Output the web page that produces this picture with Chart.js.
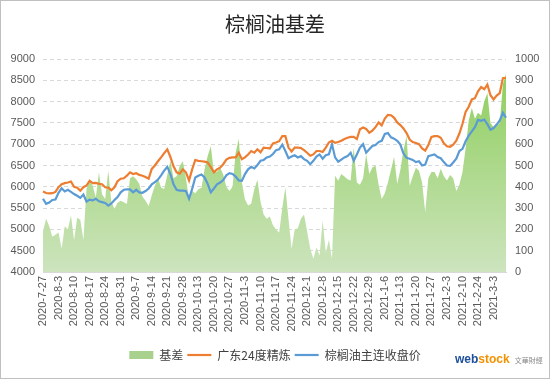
<!DOCTYPE html>
<html>
<head>
<meta charset="utf-8">
<script src="https://cdn.jsdelivr.net/npm/chart.js@4.4.1/dist/chart.umd.min.js"></script>
<style>
  body { margin: 0; background: #fff; }
  #wrap { position: relative; width: 550px; height: 379px; }
  #logo { position: absolute; left: 455px; top: 349px; font-family: "Liberation Sans", Arial, sans-serif; white-space: nowrap; }
  #logo .w { color: #1d4f9a; font-weight: bold; font-size: 12px; }
  #logo .s { color: #f39200; font-weight: bold; font-size: 12px; }
  #logo .c { color: #8a8a8a; font-size: 7px; margin-left: 5px; font-family: "Noto Sans CJK SC", sans-serif; }
</style>
</head>
<body>
<div id="wrap">
  <canvas id="grafico" width="550" height="379"></canvas>
  <div id="logo"><span class="w">web</span><span class="s">stock</span><span class="c">文華財經</span></div>
</div>
<script>
// =====================
// DATOS
// =====================
const fechas = [
  "2020-7-27","2020-7-28","2020-7-29","2020-7-30","2020-7-31",
  "2020-8-3","2020-8-4","2020-8-5","2020-8-6","2020-8-7",
  "2020-8-10","2020-8-11","2020-8-12","2020-8-13","2020-8-14",
  "2020-8-17","2020-8-18","2020-8-19","2020-8-20","2020-8-21",
  "2020-8-24","2020-8-25","2020-8-26","2020-8-27","2020-8-28",
  "2020-8-31","2020-9-1","2020-9-2","2020-9-3","2020-9-4",
  "2020-9-7","2020-9-8","2020-9-9","2020-9-10","2020-9-11",
  "2020-9-14","2020-9-15","2020-9-16","2020-9-17","2020-9-18",
  "2020-9-21","2020-9-22","2020-9-23","2020-9-24","2020-9-25",
  "2020-9-28","2020-9-29","2020-9-30","2020-10-9","2020-10-12",
  "2020-10-13","2020-10-14","2020-10-15","2020-10-16","2020-10-19",
  "2020-10-20","2020-10-21","2020-10-22","2020-10-23","2020-10-26",
  "2020-10-27","2020-10-28","2020-10-29","2020-10-30","2020-11-2",
  "2020-11-3","2020-11-4","2020-11-5","2020-11-6","2020-11-9",
  "2020-11-10","2020-11-11","2020-11-12","2020-11-13","2020-11-16",
  "2020-11-17","2020-11-18","2020-11-19","2020-11-20","2020-11-23",
  "2020-11-24","2020-11-25","2020-11-26","2020-11-27","2020-11-30",
  "2020-12-1","2020-12-2","2020-12-3","2020-12-4","2020-12-7",
  "2020-12-8","2020-12-9","2020-12-10","2020-12-11","2020-12-14",
  "2020-12-15","2020-12-16","2020-12-17","2020-12-18","2020-12-21",
  "2020-12-22","2020-12-23","2020-12-24","2020-12-25","2020-12-28",
  "2020-12-29","2020-12-30","2020-12-31","2021-1-4","2021-1-5",
  "2021-1-6","2021-1-7","2021-1-8","2021-1-11","2021-1-12",
  "2021-1-13","2021-1-14","2021-1-15","2021-1-18","2021-1-19",
  "2021-1-20","2021-1-21","2021-1-22","2021-1-25","2021-1-26",
  "2021-1-27","2021-1-28","2021-1-29","2021-2-1","2021-2-2",
  "2021-2-3","2021-2-4","2021-2-5","2021-2-8","2021-2-9",
  "2021-2-10","2021-2-18","2021-2-19","2021-2-22","2021-2-23",
  "2021-2-24","2021-2-25","2021-2-26","2021-3-1","2021-3-2",
  "2021-3-3","2021-3-4","2021-3-5","2021-3-8","2021-3-9"
];

// 基差 (eje derecho)
const jicha = [
  190,250,215,165,175,185,110,215,200,265,
  150,255,245,150,390,436,405,350,467,365,
  343,475,330,296,325,335,327,319,440,450,
  436,413,355,335,310,360,405,440,397,390,
  455,522,440,450,498,520,440,343,380,370,
  389,395,483,545,590,470,470,490,458,400,
  380,400,560,626,420,340,312,320,389,433,
  330,270,250,260,220,200,185,300,397,250,
  109,200,205,250,270,190,110,62,115,78,
  241,90,150,62,452,428,460,448,436,430,
  584,420,410,440,553,460,491,500,410,343,
  370,420,480,540,413,480,570,640,405,450,
  490,475,420,280,440,470,470,440,485,450,
  430,455,440,380,410,470,580,710,770,720,
  748,735,800,840,700,680,685,700,880,930
];

// 广东24度精炼 (eje izquierdo)
const guangdong = [
  5890,5855,5845,5850,5880,5990,6060,6085,6100,6125,
  6000,5980,5910,5990,6030,6140,6085,6090,6070,6060,
  5990,5980,5920,5990,6130,6190,6200,6260,6340,6300,
  6320,6280,6260,6230,6190,6420,6500,6600,6690,6790,
  6880,6700,6480,6340,6310,6410,6340,6150,6410,6630,
  6610,6600,6590,6570,6460,6340,6410,6450,6530,6640,
  6680,6690,6690,6800,6650,6690,6760,6840,6800,6880,
  6810,6920,6910,6900,7020,7040,7070,7190,7190,6920,
  6830,6920,6920,6910,6860,6800,6730,6760,6840,6840,
  6820,6920,7040,7080,7030,7050,7080,7120,7150,7170,
  7170,7120,7350,7390,7360,7270,7320,7400,7510,7440,
  7600,7690,7680,7620,7510,7450,7370,7260,7110,7050,
  7030,7000,6900,6850,6980,7170,7190,7190,7150,7020,
  6950,6940,6990,7080,7250,7480,7760,7880,8050,8080,
  8240,8340,8290,8400,8150,8050,8140,8200,8550,8555
];

// 棕榈油主连收盘价 (eje izquierdo)
const zhulian = [
  5720,5600,5630,5690,5700,5860,5965,5890,5930,5880,
  5830,5790,5740,5820,5650,5700,5680,5720,5660,5640,
  5620,5560,5610,5690,5760,5870,5930,5940,5940,5870,
  5930,5870,5860,5900,5960,6060,6110,6170,6270,6380,
  6470,6300,6060,5930,5910,5910,5900,5720,5950,6220,
  6260,6290,6220,6070,5870,5960,6060,6100,6160,6270,
  6320,6300,6240,6150,6140,6300,6410,6470,6430,6510,
  6610,6630,6690,6710,6770,6860,6880,6990,6840,6670,
  6710,6740,6690,6720,6650,6610,6530,6610,6710,6760,
  6660,6740,6760,7000,6690,6590,6640,6690,6720,6800,
  6610,6760,6920,7000,6800,6880,6960,6980,7050,7080,
  7240,7260,7160,7130,7080,6990,6780,6680,6660,6630,
  6580,6600,6500,6520,6720,6740,6760,6700,6670,6580,
  6500,6490,6570,6660,6840,6890,7070,7200,7300,7400,
  7570,7550,7580,7470,7340,7380,7460,7560,7740,7620
];

const ticksIzq = { min: 4000, max: 9000, paso: 500 };
const ticksDer = { min: 0, max: 1000, paso: 100 };

// =====================
// ESTILO
// =====================
const fuenteNum = "'Liberation Sans', Arial, sans-serif";
const fuenteCJK = "'Noto Sans CJK SC', 'Liberation Sans', sans-serif";
const gris = "#595959";

function degradadoVerde(ctx) {
  const area = ctx.chart.chartArea;
  if (!area) return "#a9d18e";
  const g = ctx.chart.ctx.createLinearGradient(0, area.top, 0, area.bottom);
  g.addColorStop(0, "#8acd56");
  g.addColorStop(1, "#cde4be");
  return g;
}

// borde exterior del gráfico
const marco = {
  id: "marco",
  afterDraw(c) {
    const x = c.ctx;
    x.save();
    x.strokeStyle = "#c0c0c0";
    x.lineWidth = 1;
    x.strokeRect(0.5, 0.5, c.width - 1, c.height - 1);
    x.restore();
  }
};

new Chart(document.getElementById("grafico"), {
  type: "line",
  plugins: [marco],
  data: {
    labels: fechas,
    datasets: [
      {
        label: "基差",
        data: jicha,
        yAxisID: "y1",
        fill: "origin",
        backgroundColor: degradadoVerde,
        borderWidth: 0,
        pointRadius: 0,
        pointStyle: "rect",
        tension: 0,
        order: 3
      },
      {
        label: "广东24度精炼",
        data: guangdong,
        yAxisID: "y",
        borderColor: "#ed7d31",
        backgroundColor: "#ed7d31",
        borderWidth: 2.2,
        pointRadius: 0,
        pointStyle: "line",
        tension: 0,
        order: 1
      },
      {
        label: "棕榈油主连收盘价",
        data: zhulian,
        yAxisID: "y",
        borderColor: "#5b9bd5",
        backgroundColor: "#5b9bd5",
        borderWidth: 2.2,
        pointRadius: 0,
        pointStyle: "line",
        tension: 0,
        order: 2
      }
    ]
  },
  options: {
    responsive: false,
    animation: false,
    layout: { padding: { top: 6, left: 0, right: 0, bottom: 8 } },
    plugins: {
      title: {
        display: true,
        text: "棕榈油基差",
        color: "#262626",
        font: { family: fuenteCJK, size: 20, weight: "normal" },
        padding: { top: 6, bottom: 23 }
      },
      legend: {
        position: "bottom",
        labels: {
          usePointStyle: true,
          pointStyleWidth: 24,
          boxHeight: 8,
          padding: 4,
          color: "#404040",
          font: { family: fuenteCJK, size: 12 },
          sort: (a, b) => a.datasetIndex - b.datasetIndex,
          generateLabels(chart) {
            const items = Chart.defaults.plugins.legend.labels.generateLabels(chart);
            items.forEach(it => {
              if (it.datasetIndex === 0) {
                it.fillStyle = "#a9d18e";
                it.strokeStyle = "#a9d18e";
                it.lineWidth = 0;
              }
            });
            return items;
          }
        }
      },
      tooltip: { enabled: false }
    },
    scales: {
      x: {
        grid: { display: false, drawTicks: false },
        border: { color: "#d9d9d9" },
        ticks: {
          autoSkip: false,
          maxRotation: 90,
          minRotation: 90,
          padding: 4,
          color: gris,
          font: { family: fuenteNum, size: 11 },
          callback: function (v, i) {
            return i % 5 === 0 ? this.getLabelForValue(v) : "";
          }
        },
        afterFit: s => { s.height = 73; }
      },
      y: {
        position: "left",
        min: ticksIzq.min,
        max: ticksIzq.max,
        grid: { color: "#d9d9d9", drawTicks: false },
        border: { display: false, dash: [4, 3] },
        ticks: {
          stepSize: ticksIzq.paso,
          padding: 8,
          color: gris,
          font: { family: fuenteNum, size: 11 },
          callback: v => String(v)
        },
        afterFit: s => { s.width = 43; }
      },
      y1: {
        position: "right",
        min: ticksDer.min,
        max: ticksDer.max,
        grid: { display: false, drawTicks: false },
        border: { display: false },
        ticks: {
          stepSize: ticksDer.paso,
          padding: 9,
          color: gris,
          font: { family: fuenteNum, size: 11 },
          callback: v => String(v)
        },
        afterFit: s => { s.width = 44; }
      }
    }
  }
});
</script>
</body>
</html>
